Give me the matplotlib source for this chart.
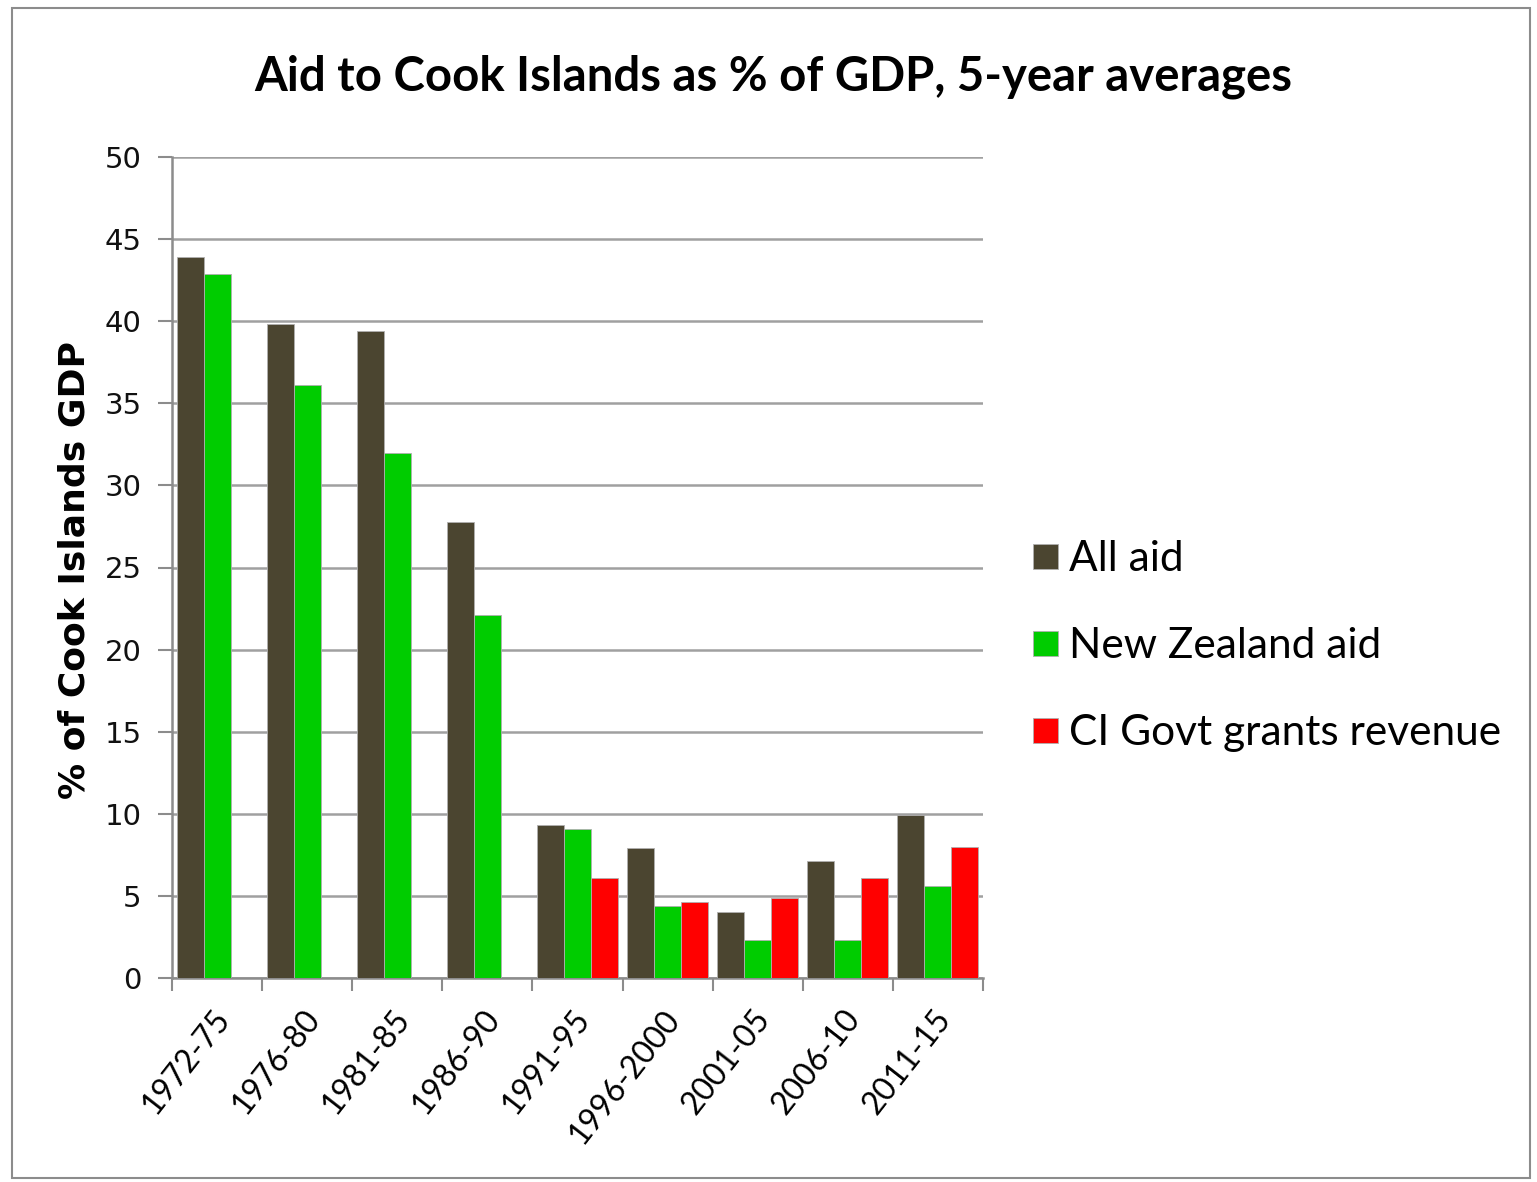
import matplotlib
matplotlib.use("Agg")
import matplotlib.pyplot as plt
import numpy as np
from matplotlib.patches import Rectangle
from matplotlib.lines import Line2D
from matplotlib.transforms import ScaledTranslation

periods = ["1972-75", "1976-80", "1981-85", "1986-90", "1991-95",
           "1996-2000", "2001-05", "2006-10", "2011-15"]
all_aid = [43.9, 39.8, 39.4, 27.8, 9.3, 7.9, 4.0, 7.1, 9.9]
nz_aid = [42.9, 36.1, 32.0, 22.1, 9.1, 4.4, 2.3, 2.3, 5.6]
ci_grants = [np.nan, np.nan, np.nan, np.nan, 6.1, 4.6, 4.9, 6.1, 8.0]

series_names = ["All aid", "New Zealand aid", "CI Govt grants revenue"]
series_colors = ["#4B4530", "#00CC00", "#FF0000"]
yticks = [0, 5, 10, 15, 20, 25, 30, 35, 40, 45, 50]

W, H = 1537, 1182
fig = plt.figure(figsize=(W / 100, H / 100), dpi=100)
fig.patch.set_facecolor("white")

# outer frame
fig.patches.append(Rectangle((12 / W, 1 - 1178 / H), (1530 - 12) / W, (1178 - 8) / H,
                             transform=fig.transFigure, fill=False,
                             edgecolor="#8C8C8C", linewidth=1.5))

ax = fig.add_axes([172 / W, 1 - 978 / H, (983 - 172) / W, (978 - 157) / H])

x = np.arange(len(periods))
bw = 0.3
for i, (vals, name, col) in enumerate(zip([all_aid, nz_aid, ci_grants], series_names, series_colors)):
    ax.bar(x + (i - 1) * bw, vals, width=bw, color=col, edgecolor="#B0B0B0",
           linewidth=0.6, zorder=3, label=name)

ax.set_xlim(-0.5, len(periods) - 0.5)
ax.set_ylim(0, 50)
ax.set_yticks(yticks)
ax.set_yticklabels([str(t) for t in yticks], fontsize=21, family="DejaVu Sans", color="#111111")
ax.yaxis.grid(True, color="#A0A0A0", linewidth=1.8, zorder=0)
ax.set_axisbelow(True)

# category labels at centres, tick marks at boundaries
ax.set_xticks(x)
ax.set_xticklabels(periods, rotation=52, ha="right", va="top", rotation_mode="anchor",
                   fontsize=23, family="Lato")
ax.tick_params(axis="x", which="major", length=0, pad=19)
shift = ScaledTranslation(-5 / 100, 0, fig.dpi_scale_trans)
for lbl in ax.get_xticklabels():
    lbl.set_transform(lbl.get_transform() + shift)
ax.set_xticks(np.arange(-0.5, len(periods) + 0.5, 1), minor=True)
ax.tick_params(axis="x", which="minor", length=9, width=1.5, color="#8C8C8C")
ax.tick_params(axis="y", length=10, width=1.5, color="#8C8C8C", pad=12)

for s in ["top", "right"]:
    ax.spines[s].set_visible(False)
for s in ["left", "bottom"]:
    ax.spines[s].set_color("#8C8C8C")
    ax.spines[s].set_linewidth(1.8)

fig.text(773 / W, 1 - 77 / H, "Aid to Cook Islands as % of GDP, 5-year averages",
         ha="center", va="center", fontsize=34, fontweight="bold", family="Lato")
fig.text(75 / W, 1 - 570 / H, "% of Cook Islands GDP", rotation=90,
         ha="center", va="center", fontsize=26, fontweight="bold", family="DejaVu Sans")

handles = [Line2D([], [], marker="s", linestyle="none", markersize=18,
                  markerfacecolor=c, markeredgecolor="#B0B0B0", markeredgewidth=0.6)
           for c in series_colors]
fig.legend(handles, series_names, loc="center left",
           bbox_to_anchor=(1005 / W, 1 - 646 / H), frameon=False,
           prop={"family": "Lato", "size": 30.5}, labelspacing=1.15,
           handletextpad=0.1, handlelength=0.9, borderpad=0)

fig.savefig("out.png", dpi=100)
